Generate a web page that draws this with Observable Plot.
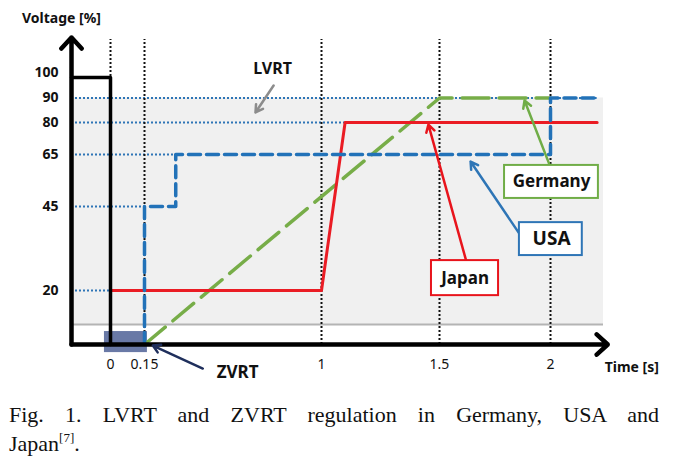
<!DOCTYPE html>
<html><head><meta charset="utf-8">
<script src="https://cdn.jsdelivr.net/npm/d3@7"></script>
<script src="https://cdn.jsdelivr.net/npm/@observablehq/plot@0.6"></script>
<style>
body{margin:0;background:#fff;}
#chart svg{display:block}
.cap{font-family:"Liberation Serif",serif;font-size:22px;line-height:29px;color:#111;padding:0 20px 0 9px;}
.l1{text-align:justify;text-align-last:justify;}
sup{font-size:13px;line-height:0;vertical-align:9px;}
</style></head><body>
<div id="chart"></div>
<div class="cap l1">Fig. 1. LVRT and ZVRT regulation in Germany, USA and</div>
<div class="cap">Japan<sup>[7]</sup>.</div>
<script>
// ---- data ----
const timeTicks = [0, 0.15, 1, 1.5, 2];
const timeLabels = ["0", "0.15", "1", "1.5", "2"];
const voltTicks = [90, 80, 65, 45, 20];
const voltTop = [100];
const nominalT = [-0.2, 0, 0];
const nominalV = [100, 100, 0];
const japanT = [0, 1, 1.1, 2.22];
const japanV = [20, 20, 80, 80];
const germanyT = [0.15, 1.5, 2];
const germanyV = [0, 90, 90];
const usaT = [0.15, 0.15, 0.3, 0.3, 2, 2, 2.22];
const usaV = [0, 45, 45, 65, 65, 90, 90];
const guideV = [90, 80, 65, 45, 20];
const guideEnd = [2.22, 1.1, 0.3, 0.15, 0];
const countryNames = ["Germany", "USA", "Japan"];
const countryColors = ["#70ad47", "#2e75b6", "#e8141c"];
// annotation boxes (data coords)
const boxX1 = [1.793, 1.86, 1.466], boxX2 = [2.226, 2.15, 1.766];
const boxY1 = [48.1, 30.4, 18.1], boxY2 = [60.8, 40.2, 28.9];
const boxTX = [2.005, 2.005, 1.615], boxTY = [54.6, 35.3, 23.5];
const boxFS = [17, 19, 17];
// pointer arrows: from box to curve
const ptrX1 = [1.995, 1.865, 1.62], ptrY1 = [61.2, 36.4, 28.9];
const ptrX2 = [1.883, 1.64, 1.453], ptrY2 = [89, 62.3, 79];

const zip = (a, b) => a.map((t, i) => ({t, v: b[i]}));
const tMin = -0.2, tEnd = 2.25, tArrow = 2.27, vFloor = 7.4, vTop = 120;

const boxes = countryNames.map((n, i) => ({n, c: countryColors[i], x1: boxX1[i], x2: boxX2[i], y1: boxY1[i], y2: boxY2[i], tx: boxTX[i], ty: boxTY[i], fs: boxFS[i],
  px1: ptrX1[i], py1: ptrY1[i], px2: ptrX2[i], py2: ptrY2[i]}));

const blue = "#2272b8", red = "#ea1c24", green = "#77ad48";

// piecewise (schematic) axes, as in the original drawing
const px = d3.scaleLinear().domain([-0.2, 0, 0.15, 1, 1.5, 2, 2.25, 2.5]).range([71, 110, 144, 321, 439, 550, 603, 656]);
const py = d3.scaleLinear().domain([0, 20, 45, 65, 80, 90, 100, 120]).range([344, 290, 206, 154, 122, 97.5, 77, 37]);

const plot = Plot.plot({
  width: 679, height: 400, margin: 0,
  style: {fontFamily: "Noto Sans, sans-serif", background: "transparent", color: "#111"},
  x: {type: "linear", transform: px, domain: [0, 679], range: [0, 679], axis: null},
  y: {type: "linear", transform: py, domain: [0, 400], range: [0, 400], axis: null},
  marks: [
    Plot.rect([0], {x1: () => tMin, x2: () => tEnd, y1: () => vFloor, y2: () => 90, fill: "#f0f0f0"}),
    Plot.ruleY([vFloor], {y: d => d, x1: () => tMin, x2: () => tEnd, stroke: "#b4b4b4", strokeWidth: 2}),
    Plot.rect([0], {x1: () => -0.031, x2: () => 0.164, y1: () => -3, y2: () => 4.8, fill: "#4f6296", fillOpacity: 0.85}),
    Plot.ruleY(zip(guideEnd, guideV), {y: "v", x1: () => tMin, x2: "t", stroke: "#2e75b6", strokeWidth: 2, strokeDasharray: "2,2"}),
    Plot.ruleX(timeTicks, {x: d => d, y1: () => 0, y2: () => 119, stroke: "#111", strokeWidth: 2, strokeDasharray: "2,2"}),
    Plot.line(zip(germanyT, germanyV), {x: "t", y: "v", stroke: green, strokeWidth: 3.5, strokeDasharray: "27,10"}),
    Plot.line(zip(japanT, japanV), {x: "t", y: "v", stroke: red, strokeWidth: 3}),
    Plot.line(zip(usaT, usaV), {x: "t", y: "v", stroke: blue, strokeWidth: 3.5, strokeDasharray: "12,6"}),
    Plot.line(zip(nominalT, nominalV), {x: "t", y: "v", stroke: "#000", strokeWidth: 3.5}),
    // axes
    Plot.arrow([0], {x1: () => tMin, y1: () => 0, x2: () => tMin, y2: () => vTop, stroke: "#000", strokeWidth: 4.5, headLength: 5, headAngle: 85}),
    Plot.arrow([0], {x1: () => tMin, y1: () => 0, x2: () => tArrow, y2: () => 0, stroke: "#000", strokeWidth: 4.5, headLength: 5, headAngle: 85}),
    // pointers
    Plot.arrow([0], {x1: () => 0.77, y1: () => 96.1, x2: () => 0.683, y2: () => 84.1, stroke: "#8c8c8c", strokeWidth: 2.5, headLength: 5, headAngle: 60}),
    Plot.arrow([0], {x1: () => 0.43, y1: () => -8.9, x2: () => 0.19, y2: () => -0.4, stroke: "#1f2f5c", strokeWidth: 2.5, headLength: 5, headAngle: 60}),
    Plot.arrow(boxes, {x1: "px1", y1: "py1", x2: "px2", y2: "py2", stroke: "c", strokeWidth: 2.5, headLength: 5, headAngle: 60}),
    Plot.rect(boxes, {x1: "x1", x2: "x2", y1: "y1", y2: "y2", fill: "#fff", stroke: "c", strokeWidth: 2}),
    ...boxes.map(b => Plot.text([b], {x: "tx", y: "ty", text: "n", fontSize: b.fs, fontWeight: "bold", fill: "#111"})),
    // texts
    Plot.text(voltTicks, {x: () => tMin, y: d => d, text: d => String(d), dx: -13, textAnchor: "end", fontWeight: "bold", fontSize: 14}),
    Plot.text(voltTop, {x: () => tMin, y: d => d, text: d => String(d), dx: -13, dy: -5, textAnchor: "end", fontWeight: "bold", fontSize: 14}),
    Plot.text(timeTicks, {x: d => d, y: () => 0, text: (d, i) => timeLabels[i], dy: 20, fontSize: 14}),
    Plot.text(["Voltage [%]"], {x: () => tMin, y: () => vTop, text: d => d, dx: -10, dy: -19, fontWeight: "bold", fontSize: 14}),
    Plot.text(["Time [s]"], {x: () => tArrow, y: () => 0, text: d => d, dx: 24, dy: 23, fontWeight: "bold", fontSize: 14}),
    Plot.text(["LVRT"], {x: () => 0.765, y: () => 104.5, text: d => d, fontWeight: "bold", fontSize: 16}),
    Plot.text(["ZVRT"], {x: () => 0.597, y: () => -10.4, text: d => d, fontWeight: "bold", fontSize: 17})
  ]
});
document.getElementById("chart").appendChild(plot);
</script>
</body></html>
